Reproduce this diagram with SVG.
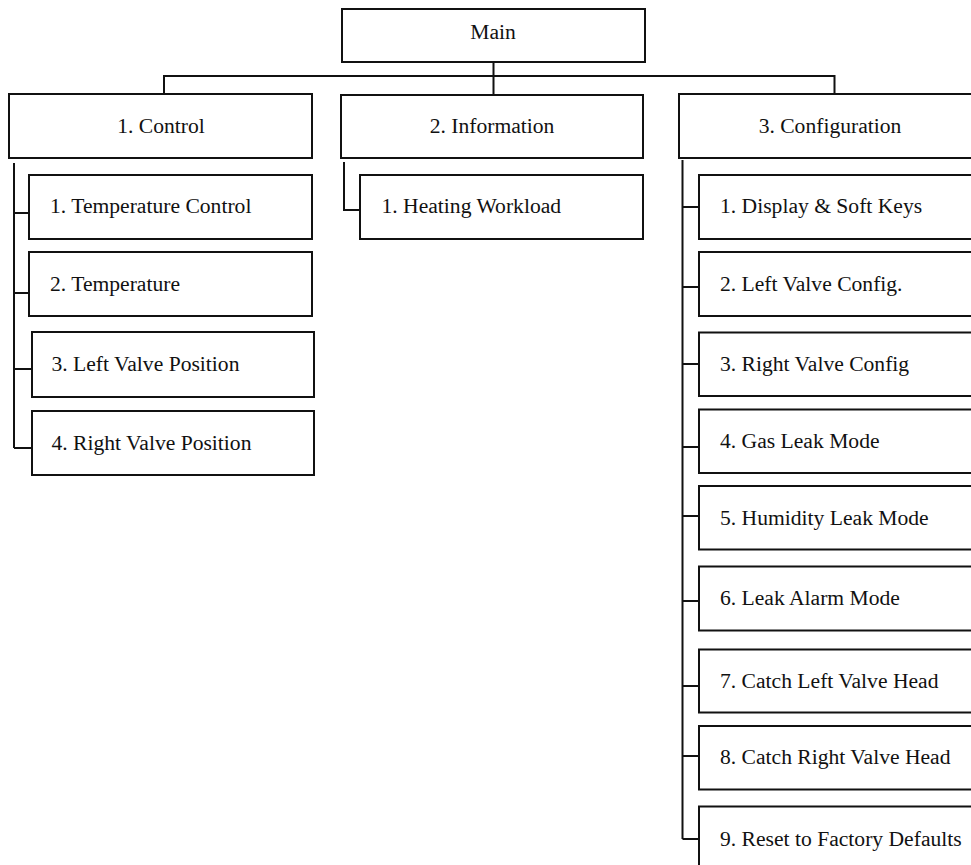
<svg xmlns="http://www.w3.org/2000/svg" width="971" height="865" viewBox="0 0 971 865">
  <style>
    .box { fill: #ffffff; stroke: #111111; stroke-width: 2; }
    .wire { fill: none; stroke: #111111; stroke-width: 2; }
    .lbl { font-family: "Liberation Serif", "Times New Roman", serif; font-size: 21.6px; fill: #111111; }
    .mid { text-anchor: middle; }
  </style>
  <rect width="971" height="865" fill="#ffffff"/>

  <!-- tree connectors -->
  <g id="connectors">
    <!-- root to top-level bus -->
    <path class="wire" d="M493.5 62 V95 M164 94 V76 H834.5 V94"/>
    <!-- Control branch -->
    <path class="wire" d="M14 163 V448 M14 213 H29 M14 293 H29 M14 369 H32 M14 448 H32"/>
    <!-- Information branch -->
    <path class="wire" d="M344 162 V211 M344 210 H360"/>
    <!-- Configuration branch -->
    <path class="wire" d="M682.5 160 V839 M682.5 207 H699 M682.5 287 H699 M682.5 364 H699 M682.5 447 H699 M682.5 516 H699 M682.5 601 H699 M682.5 686 H699 M682.5 756 H699 M682.5 839 H699"/>
  </g>

  <!-- root -->
  <g id="main">
    <rect class="box" x="342" y="9" width="303" height="53"/>
    <text class="lbl mid" x="493" y="39">Main</text>
  </g>

  <!-- top level menus -->
  <g id="control">
    <rect class="box" x="9" y="94" width="303" height="64"/>
    <text class="lbl mid" x="161" y="133">1. Control</text>
  </g>
  <g id="information">
    <rect class="box" x="341" y="95" width="302" height="63"/>
    <text class="lbl mid" x="492" y="133">2. Information</text>
  </g>
  <g id="configuration">
    <rect class="box" x="679" y="94" width="302" height="64"/>
    <text class="lbl mid" x="830" y="133">3. Configuration</text>
  </g>

  <!-- Control submenu -->
  <g id="ctrl-1">
    <rect class="box" x="29" y="175" width="283" height="64"/>
    <text class="lbl" x="50" y="213">1. Temperature Control</text>
  </g>
  <g id="ctrl-2">
    <rect class="box" x="29" y="252" width="283" height="64"/>
    <text class="lbl" x="50" y="291">2. Temperature</text>
  </g>
  <g id="ctrl-3">
    <rect class="box" x="32" y="332" width="282" height="65"/>
    <text class="lbl" x="51.5" y="371">3. Left Valve Position</text>
  </g>
  <g id="ctrl-4">
    <rect class="box" x="32" y="411" width="282" height="64"/>
    <text class="lbl" x="51.5" y="450">4. Right Valve Position</text>
  </g>

  <!-- Information submenu -->
  <g id="info-1">
    <rect class="box" x="360" y="175" width="283" height="64"/>
    <text class="lbl" x="381.5" y="213">1. Heating Workload</text>
  </g>

  <!-- Configuration submenu -->
  <g id="cfg-1">
    <rect class="box" x="699" y="175" width="290" height="64"/>
    <text class="lbl" x="720" y="213">1. Display &amp; Soft Keys</text>
  </g>
  <g id="cfg-2">
    <rect class="box" x="699" y="252" width="290" height="64"/>
    <text class="lbl" x="720" y="291">2. Left Valve Config.</text>
  </g>
  <g id="cfg-3">
    <rect class="box" x="699" y="332.5" width="290" height="63.5"/>
    <text class="lbl" x="720" y="371">3. Right Valve Config</text>
  </g>
  <g id="cfg-4">
    <rect class="box" x="699" y="409.5" width="290" height="63.5"/>
    <text class="lbl" x="720" y="448">4. Gas Leak Mode</text>
  </g>
  <g id="cfg-5">
    <rect class="box" x="699" y="486" width="290" height="63.5"/>
    <text class="lbl" x="720" y="525">5. Humidity Leak Mode</text>
  </g>
  <g id="cfg-6">
    <rect class="box" x="699" y="566.5" width="290" height="64"/>
    <text class="lbl" x="720" y="605">6. Leak Alarm Mode</text>
  </g>
  <g id="cfg-7">
    <rect class="box" x="699" y="649.5" width="290" height="63"/>
    <text class="lbl" x="720" y="688">7. Catch Left Valve Head</text>
  </g>
  <g id="cfg-8">
    <rect class="box" x="699" y="726" width="290" height="63.5"/>
    <text class="lbl" x="720" y="764">8. Catch Right Valve Head</text>
  </g>
  <g id="cfg-9">
    <rect class="box" x="699" y="806.5" width="290" height="64"/>
    <text class="lbl" x="720" y="846">9. Reset to Factory Defaults</text>
  </g>
</svg>
